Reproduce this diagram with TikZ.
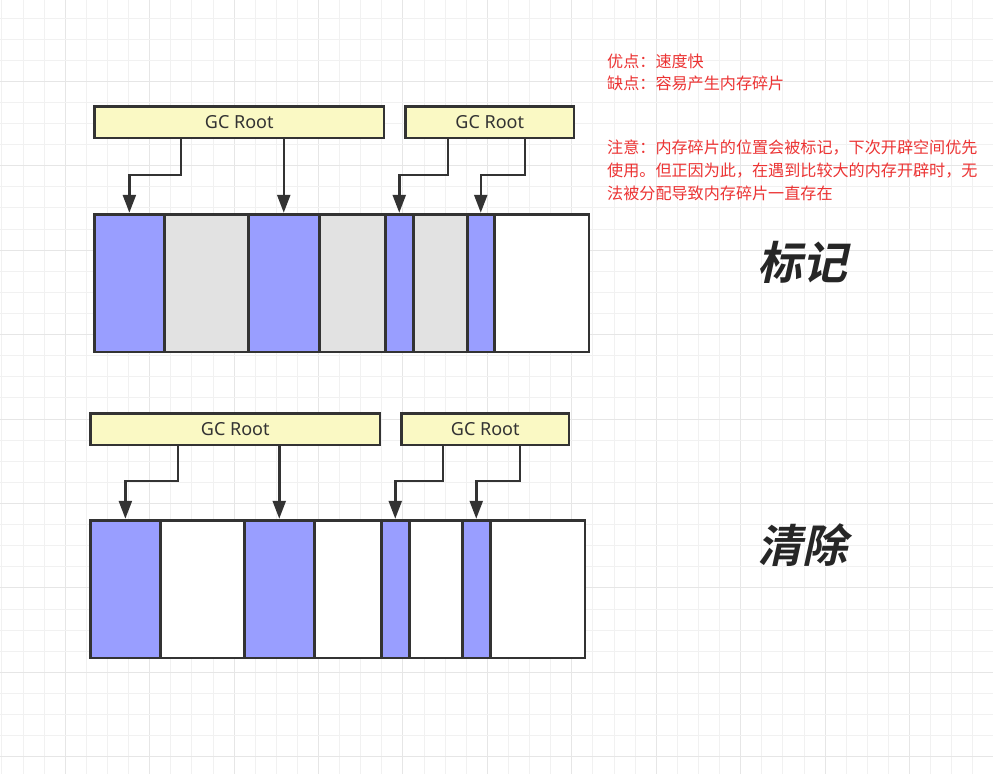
\documentclass[tikz,border=0pt]{standalone}
\usepackage{fontspec}
\usetikzlibrary{arrows.meta}
\newfontfamily\cjk{Noto Sans CJK SC}
\newfontfamily\cjkbi[FakeSlant=0.22]{Noto Sans CJK SC Bold}
\newfontfamily\gcfont{Noto Sans}
\definecolor{gridminor}{RGB}{241,241,241}
\definecolor{gridmajor}{RGB}{230,230,230}
\definecolor{liveblue}{RGB}{153,158,255}
\definecolor{deadgray}{RGB}{226,226,226}
\definecolor{rootyellow}{RGB}{250,249,196}
\definecolor{edge}{RGB}{51,51,51}
\definecolor{notered}{RGB}{236,52,52}
\definecolor{titledark}{RGB}{38,38,38}
\tikzset{
  cell/.style={draw=edge, line width=2.5pt, inner sep=0pt, anchor=north west, minimum height=137.5pt},
  live/.style={cell, fill=liveblue},
  dead/.style={cell, fill=deadgray},
  free/.style={cell, fill=white},
  root/.style={draw=edge, line width=2.5pt, fill=rootyellow, inner sep=0pt, anchor=north west,
    minimum height=31.5pt, text=edge, font=\gcfont\fontsize{18}{20}\selectfont},
  arr/.style={draw=edge, line width=2.5pt, -{Triangle[width=13pt,length=18pt]}, shorten >=0.5pt},
  note/.style={anchor=west, inner sep=0pt, text=notered, font=\cjk\fontsize{16.1}{18}\selectfont},
  title/.style={inner sep=0pt, text=titledark, font=\cjkbi\fontsize{45}{50}\selectfont},
}
\begin{document}
\begin{tikzpicture}[x=1pt,y=-1pt]
\useasboundingbox (0,0) rectangle (993,774);
\fill[white] (0,0) rectangle (993,774);
% background grid
\foreach \i in {0,...,46}{
  \pgfmathtruncatemacro{\m}{mod(\i,4)}
  \ifnum\m=3 \def\gc{gridmajor}\else\def\gc{gridminor}\fi
  \draw[\gc, line width=1pt] ({1.9+21.11*\i},0) -- ({1.9+21.11*\i},774);
}
\foreach \i in {0,...,36}{
  \pgfmathtruncatemacro{\m}{mod(\i,4)}
  \ifnum\m=3 \def\gc{gridmajor}\else\def\gc{gridminor}\fi
  \draw[\gc, line width=1pt] (0,{18+21.11*\i}) -- (993,{18+21.11*\i});
}

% ---------- top: marking ----------
\node[root, minimum width=289.5pt] (r1) at (93.25,105.25) {GC Root};
\node[root, minimum width=168.5pt] (r2) at (404.25,105.25) {GC Root};

\node[live, minimum width=69.75pt] (c1) at (93.25,213.25) {};
\node[dead, minimum width=84pt] (c2) at (163,213.25) {};
\node[live, minimum width=71pt] (c3) at (247,213.25) {};
\node[dead, minimum width=66pt] (c4) at (318,213.25) {};
\node[live, minimum width=28pt] (c5) at (384,213.25) {};
\node[dead, minimum width=54pt] (c6) at (412,213.25) {};
\node[live, minimum width=27pt] (c7) at (466,213.25) {};
\node[free, minimum width=94.75pt] (c8) at (493,213.25) {};

\coordinate (a1) at (181,175);
\coordinate (a3) at (448,175);
\coordinate (a4) at (525,175);
\draw[arr] (r1.south -| a1) -- (a1) -| (c1.north);
\draw[arr] (r1.south -| c3.north) -- (c3.north);
\draw[arr] (r2.south -| a3) -- (a3) -| (c5.north);
\draw[arr] (r2.south -| a4) -- (a4) -| (c7.north);

% ---------- bottom: sweeping ----------
\node[root, minimum width=289.5pt] (s1) at (89.25,412.25) {GC Root};
\node[root, minimum width=167.5pt] (s2) at (400.25,412.25) {GC Root};

\node[live, minimum width=69.75pt] (d1) at (89.25,519.25) {};
\node[free, minimum width=84pt] (d2) at (159,519.25) {};
\node[live, minimum width=70pt] (d3) at (243,519.25) {};
\node[free, minimum width=67pt] (d4) at (313,519.25) {};
\node[live, minimum width=28pt] (d5) at (380,519.25) {};
\node[free, minimum width=53pt] (d6) at (408,519.25) {};
\node[live, minimum width=28pt] (d7) at (461,519.25) {};
\node[free, minimum width=94.75pt] (d8) at (489,519.25) {};

\coordinate (b1) at (178,481);
\coordinate (b3) at (443,481);
\coordinate (b4) at (520,481);
\draw[arr] (s1.south -| b1) -- (b1) -| (d1.north);
\draw[arr] (s1.south -| d3.north) -- (d3.north);
\draw[arr] (s2.south -| b3) -- (b3) -| (d5.north);
\draw[arr] (s2.south -| b4) -- (b4) -| (d7.north);

% ---------- titles ----------
\node[title] (t1) at (802,262) {标记};
\node[title] (t2) at (802,545) {清除};

% ---------- notes ----------
\node[note] (n1) at (607,61) {优点：速度快};
\node[note] (n2) at (607,83) {缺点：容易产生内存碎片};
\node[note] (n3) at (607,148) {注意：内存碎片的位置会被标记，下次开辟空间优先};
\node[note] (n4) at (607,171) {使用。但正因为此，在遇到比较大的内存开辟时，无};
\node[note] (n5) at (607,193) {法被分配导致内存碎片一直存在};
\end{tikzpicture}
\end{document}
